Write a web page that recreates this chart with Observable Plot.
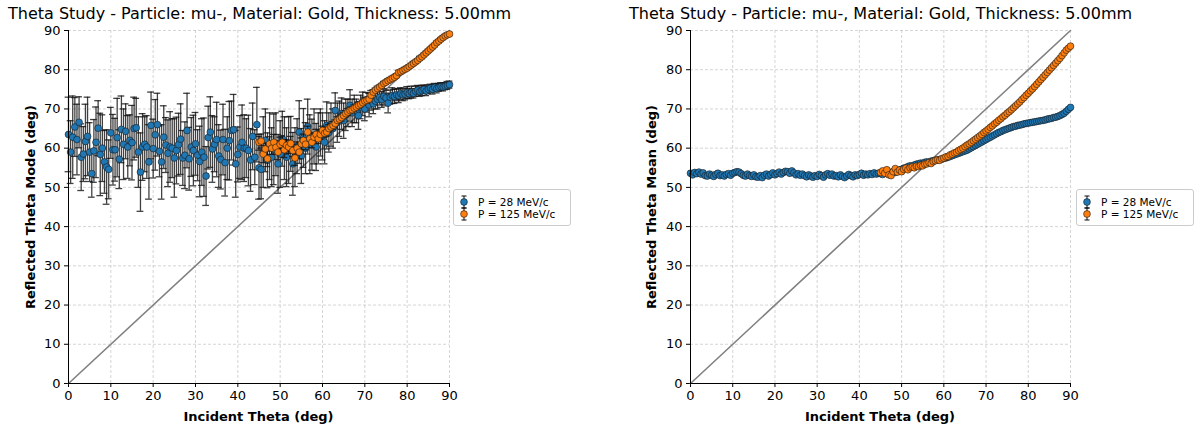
<!DOCTYPE html>
<html><head><meta charset="utf-8">
<script src="https://cdn.jsdelivr.net/npm/d3@7"></script>
<script src="https://cdn.jsdelivr.net/npm/@observablehq/plot@0.6"></script>
<style>
body{margin:0;background:#fff;font-family:"DejaVu Sans",sans-serif;color:#000;}
#wrap{position:relative;width:1196px;height:429px;overflow:hidden;background:#fff;}
.panel{position:absolute;top:0;}
.title{position:absolute;top:6px;font-size:16px;line-height:1;white-space:nowrap;}
.xlab{position:absolute;top:410px;font-size:13px;line-height:1;font-weight:bold;white-space:nowrap;transform:translateX(-50%);}
.ylab{position:absolute;font-size:13px;line-height:1;font-weight:bold;white-space:nowrap;transform:translate(-50%,-50%) rotate(-90deg);}
.legend{position:absolute;width:116px;height:35px;border:1px solid #cccccc;border-radius:3px;background:rgba(255,255,255,0.8);font-size:10.5px;}
.legend .row{position:absolute;left:0;height:12px;line-height:12px;white-space:nowrap;}
.legend svg{position:absolute;left:4px;top:-1px;}
.legend span{position:absolute;left:24px;top:0;}
</style>
</head><body>
<div id="wrap"></div>
<script>
// ---------- data ----------
const titleText = "Theta Study - Particle: mu-, Material: Gold, Thickness: 5.00mm";
const xLabel = "Incident Theta (deg)";
const yLabelMode = "Reflected Theta Mode (deg)";
const yLabelMean = "Reflected Theta Mean (deg)";
const seriesNames = ["P = 28 MeV/c", "P = 125 MeV/c"];
const seriesColors = ["#1f77b4", "#ff7f0e"];
const xTicks = [0,10,20,30,40,50,60,70,80,90];
const yTicks = [0,10,20,30,40,50,60,70,80,90];
const diagX = [0, 90];
const diagY = [0, 90];

const theta28 = [
0,0.5,1,1.5,2,2.5,3,3.5,4,4.5,
5,5.5,6,6.5,7,7.5,8,8.5,9,9.5,
10,10.5,11,11.5,12,12.5,13,13.5,14,14.5,
15,15.5,16,16.5,17,17.5,18,18.5,19,19.5,
20,20.5,21,21.5,22,22.5,23,23.5,24,24.5,
25,25.5,26,26.5,27,27.5,28,28.5,29,29.5,
30,30.5,31,31.5,32,32.5,33,33.5,34,34.5,
35,35.5,36,36.5,37,37.5,38,38.5,39,39.5,
40,40.5,41,41.5,42,42.5,43,43.5,44,44.5,
45,45.5,46,46.5,47,47.5,48,48.5,49,49.5,
50,50.5,51,51.5,52,52.5,53,53.5,54,54.5,
55,55.5,56,56.5,57,57.5,58,58.5,59,59.5,
60,60.5,61,61.5,62,62.5,63,63.5,64,64.5,
65,65.5,66,66.5,67,67.5,68,68.5,69,69.5,
70,70.5,71,71.5,72,72.5,73,73.5,74,74.5,
75,75.5,76,76.5,77,77.5,78,78.5,79,79.5,
80,80.5,81,81.5,82,82.5,83,83.5,84,84.5,
85,85.5,86,86.5,87,87.5,88,88.5,89,89.5,
90];

const mode28 = [
63.5,59.0,62.8,65.4,62.2,66.6,57.7,58.5,61.7,63.0,
59.0,53.5,59.3,61.5,65.1,58.4,60.0,56.5,55.2,54.6,
63.9,59.6,59.6,62.7,57.2,64.8,61.0,64.3,60.3,62.0,
61.4,65.0,65.2,59.0,53.9,60.3,61.0,60.3,56.5,65.8,
59.9,63.4,66.0,59.2,56.5,62.8,60.8,58.7,60.3,60.0,
57.5,59.4,60.9,62.3,57.5,58.2,64.5,57.3,60.3,59.4,
61.1,58.2,56.6,59.0,57.7,52.9,62.7,64.1,59.8,61.0,
62.2,58.0,57.1,62.2,56.3,60.0,61.9,64.5,64.7,56.0,
58.4,60.3,61.5,60.0,60.0,59.4,57.0,63.0,57.7,66.0,
55.0,54.6,59.0,62.0,56.9,60.5,57.7,59.7,61.0,56.0,
58.5,62.4,60.0,57.7,59.5,61.1,56.0,57.7,60.5,64.1,
58.0,62.6,60.0,65.5,61.0,60.9,63.0,60.3,62.5,64.0,
63.0,61.5,65.8,64.0,66.0,65.0,69.6,66.5,67.5,68.8,
67.0,68.5,69.0,70.9,69.0,70.0,69.5,68.3,70.5,71.3,
70.0,71.7,71.0,72.2,71.3,72.0,72.5,73.0,72.4,73.2,
72.8,71.5,73.0,73.4,73.2,73.6,73.4,73.9,73.6,73.8,
74.2,73.9,74.3,74.0,74.5,74.8,74.4,74.7,75.0,74.6,
75.0,75.3,75.0,75.5,75.2,75.5,75.7,75.6,75.8,76.0,
76.2];

const modeErr28 = [
9.5,8.0,10.5,7.5,9.0,6.5,8.5,7.0,9.5,10.0,
7.5,6.0,8.0,9.0,7.0,10.5,8.5,8.0,9.5,7.5,
6.5,9.0,8.0,10.0,7.5,8.5,9.0,7.0,8.0,6.5,
9.5,8.0,7.5,9.0,10.0,8.5,7.0,8.0,9.5,8.5,
7.5,9.0,8.0,6.5,9.5,8.0,7.0,8.5,9.0,7.5,
10.0,8.5,8.0,9.0,7.0,8.5,9.5,8.0,7.5,9.0,
8.0,6.5,9.0,8.5,10.0,7.5,8.0,9.0,8.5,7.0,
9.5,8.0,7.5,9.0,8.5,8.0,10.0,7.5,9.0,8.5,
7.0,8.0,9.5,8.5,7.5,9.0,8.0,8.5,7.0,9.5,
8.0,7.5,9.0,8.0,7.0,8.5,7.5,9.0,8.0,7.5,
8.5,7.0,8.0,7.5,8.5,7.0,8.0,7.5,7.0,8.0,
7.0,7.5,6.5,7.0,7.5,6.5,7.0,6.0,6.5,6.0,
6.0,5.5,6.0,5.0,5.5,5.0,4.5,5.0,4.5,4.0,
4.5,4.0,3.5,4.0,3.5,3.5,3.0,3.5,3.0,3.0,
3.0,2.5,3.0,2.5,2.5,2.0,2.5,2.0,2.0,2.0,
2.0,2.5,1.8,2.0,1.8,1.5,1.8,1.5,1.5,1.5,
1.5,1.3,1.5,1.2,1.3,1.2,1.2,1.3,1.1,1.2,
1.1,1.0,1.2,1.0,1.1,1.0,1.0,1.0,0.9,1.0,
0.9];

const mean28 = [
53.6,53.2,53.8,53.5,53.9,53.4,53.7,53.0,52.9,53.4,
53.1,52.8,53.3,53.6,53.0,53.2,52.9,53.3,53.5,53.1,
53.6,53.8,54.0,53.9,53.5,53.1,52.9,53.4,53.0,52.8,
53.2,52.7,52.6,53.0,52.5,53.1,53.4,52.9,53.3,53.7,
53.2,53.5,53.9,53.4,53.8,54.1,54.0,53.6,54.2,53.7,
53.2,53.5,53.1,53.4,53.0,52.7,53.2,52.9,52.6,53.0,
52.8,53.3,53.0,52.6,53.2,53.5,53.1,53.4,52.9,53.0,
52.7,53.2,52.8,52.5,52.9,53.3,53.0,52.7,53.2,53.0,
53.3,53.6,53.1,53.4,53.2,53.5,53.3,53.7,53.4,53.6,
53.5,53.3,53.7,53.5,53.9,53.6,54.0,53.8,54.2,54.4,
54.6,54.9,55.0,55.3,55.5,55.4,55.7,55.9,56.0,56.2,
56.1,56.4,56.5,56.4,56.7,56.8,56.9,57.0,57.1,57.2,
57.4,57.5,57.7,57.9,58.1,58.3,58.5,58.7,58.9,59.1,
59.3,59.5,59.8,60.1,60.4,60.7,61.0,61.3,61.6,61.9,
62.2,62.5,62.8,63.1,63.4,63.7,64.0,64.2,64.5,64.7,
64.9,65.1,65.3,65.5,65.6,65.8,65.9,66.0,66.2,66.3,
66.4,66.5,66.6,66.7,66.8,66.9,67.0,67.1,67.2,67.4,
67.5,67.6,67.8,67.9,68.1,68.3,68.6,68.9,69.4,69.9,
70.4];

const theta125 = [
45,45.5,46,46.5,47,47.5,48,48.5,49,49.5,
50,50.5,51,51.5,52,52.5,53,53.5,54,54.5,
55,55.5,56,56.5,57,57.5,58,58.5,59,59.5,
60,60.5,61,61.5,62,62.5,63,63.5,64,64.5,
65,65.5,66,66.5,67,67.5,68,68.5,69,69.5,
70,70.5,71,71.5,72,72.5,73,73.5,74,74.5,
75,75.5,76,76.5,77,77.5,78,78.5,79,79.5,
80,80.5,81,81.5,82,82.5,83,83.5,84,84.5,
85,85.5,86,86.5,87,87.5,88,88.5,89,89.5,
90];

const mode125 = [
61.5,61.8,58.5,59.8,57.3,61.1,60.0,61.5,60.2,59.0,
61.0,61.5,59.6,60.7,60.3,61.2,59.4,57.5,60.0,59.0,
61.1,62.0,61.0,64.1,62.4,61.5,62.8,63.5,62.4,63.5,
64.5,63.8,64.1,65.0,65.4,65.8,66.3,67.1,67.4,67.8,
68.3,68.8,69.2,69.6,69.8,70.2,70.5,70.9,71.2,71.6,
72.0,72.2,72.5,73.5,74.3,74.8,75.2,75.6,76.0,76.5,
76.8,77.2,77.5,77.8,78.1,78.5,79.3,79.5,79.8,80.1,
80.4,80.8,81.2,81.6,82.0,82.4,82.9,83.3,83.8,84.3,
84.8,85.3,85.8,86.3,86.9,87.3,87.8,88.2,88.6,88.9,
89.1];

const modeErr125 = [
2.0,1.8,2.2,1.5,2.0,1.8,1.6,2.0,1.7,1.9,
1.8,1.6,2.0,1.5,1.7,1.8,1.5,1.9,1.6,1.7,
1.5,1.6,1.4,1.5,1.3,1.4,1.2,1.3,1.2,1.1,
1.1,1.0,1.1,1.0,0.9,1.0,0.9,0.9,0.8,0.9,
0.8,0.8,0.9,0.8,0.7,0.8,0.7,0.7,0.7,0.6,
0.6,0.7,0.6,0.6,0.6,0.5,0.6,0.5,0.5,0.5,
0.5,0.5,0.5,0.5,0.5,0.5,0.5,0.5,0.5,0.5,
0.5,0.5,0.4,0.5,0.4,0.4,0.5,0.4,0.4,0.4,
0.4,0.4,0.4,0.4,0.4,0.4,0.4,0.4,0.4,0.4,
0.4];

const mean125 = [
53.8,54.2,53.6,54.5,53.2,53.0,54.0,54.8,53.9,54.4,
54.0,54.6,54.9,54.5,55.0,55.2,55.0,55.4,55.3,55.6,
55.5,55.9,56.0,56.3,56.1,56.6,56.8,57.0,56.9,57.3,
57.5,57.8,57.9,58.3,58.5,58.8,59.0,59.4,59.7,60.0,
60.4,60.8,61.1,61.5,61.9,62.3,62.7,63.1,63.5,64.0,
64.4,64.8,65.3,65.7,66.2,66.6,67.1,67.5,68.0,68.4,
68.9,69.3,69.8,70.3,70.8,71.3,71.8,72.4,72.9,73.5,
74.0,74.6,75.1,75.7,76.3,76.9,77.5,78.1,78.7,79.3,
79.9,80.5,81.1,81.7,82.3,82.9,83.6,84.3,85.0,85.5,
86.0];

// ---------- tables ----------
const s28 = theta28.map((t, i) => ({t, mode: mode28[i], err: modeErr28[i], mean: mean28[i]}));
const s125 = theta125.map((t, i) => ({t, mode: mode125[i], err: modeErr125[i], mean: mean125[i]}));
const diag = diagX.map((x, i) => ({x, y: diagY[i]}));

const capHalf = 0.8; // cap half-width in degrees
const eStyle = {stroke: "#111", strokeOpacity: 0.8, strokeWidth: 1.3};

function errMarks(data, color) {
  return [
    Plot.ruleX(data, {x: "t", y1: d => d.mode - d.err, y2: d => d.mode + d.err, ...eStyle}),
    Plot.ruleY(data, {y: d => d.mode + d.err, x1: d => d.t - capHalf, x2: d => d.t + capHalf, ...eStyle}),
    Plot.ruleY(data, {y: d => d.mode - d.err, x1: d => d.t - capHalf, x2: d => d.t + capHalf, ...eStyle}),
    Plot.dot(data, {x: "t", y: "mode", r: 3.4, fill: color, stroke: "#1a1a1a", strokeWidth: 0.6})
  ];
}

function basePlot(ml, mr, marks) {
  return Plot.plot({
    width: 598, height: 429,
    marginLeft: ml, marginRight: mr, marginTop: 30, marginBottom: 46,
    x: {domain: [0, 90]},
    y: {domain: [0, 90]},
    style: {fontFamily: "DejaVu Sans", fontSize: "13px", color: "#000", background: "transparent", overflow: "visible"},
    marks: [
      Plot.gridX(xTicks, {stroke: "#b8b8b8", strokeOpacity: 1, strokeWidth: 0.6, strokeDasharray: "3,2"}),
      Plot.gridY(yTicks, {stroke: "#b8b8b8", strokeOpacity: 1, strokeWidth: 0.6, strokeDasharray: "3,2"}),
      Plot.axisX(xTicks, {tickSize: 4, tickPadding: 3, label: null, fontSize: 13}),
      Plot.axisY(yTicks, {tickSize: 4, tickPadding: 4, label: null, fontSize: 13}),
      Plot.line(diag, {x: "x", y: "y", stroke: "#808080", strokeWidth: 1.6}),
      ...marks,
      Plot.ruleX([0], {stroke: "#000", strokeWidth: 1}),
      Plot.ruleY([0], {stroke: "#000", strokeWidth: 1})
    ]
  });
}

const wrap = document.getElementById("wrap");

// left panel (mode)
const left = basePlot(68, 149, [
  ...errMarks(s28, seriesColors[0]),
  ...errMarks(s125, seriesColors[1])
]);
left.classList.add("panel");
left.style.left = "0px";
wrap.appendChild(left);

// right panel (mean)
const right = basePlot(92, 126, [
  Plot.dot(s28, {x: "t", y: "mean", r: 3.4, fill: seriesColors[0], stroke: "#1a1a1a", strokeWidth: 0.6}),
  Plot.dot(s125, {x: "t", y: "mean", r: 3.4, fill: seriesColors[1], stroke: "#1a1a1a", strokeWidth: 0.6})
]);
right.classList.add("panel");
right.style.left = "598px";
wrap.appendChild(right);

function addDiv(cls, text, styles) {
  const d = document.createElement("div");
  d.className = cls;
  d.textContent = text;
  Object.assign(d.style, styles);
  wrap.appendChild(d);
  return d;
}
addDiv("title", titleText, {left: "8px"});
addDiv("title", titleText, {left: "629px"});
addDiv("xlab", xLabel, {left: "258.5px"});
addDiv("xlab", xLabel, {left: "880px"});
addDiv("ylab", yLabelMode, {left: "30px", top: "207px"});
addDiv("ylab", yLabelMean, {left: "651px", top: "207px"});

function addLegend(x, y) {
  const lg = document.createElement("div");
  lg.className = "legend";
  lg.style.left = x + "px";
  lg.style.top = y + "px";
  seriesNames.forEach((name, i) => {
    const row = document.createElement("div");
    row.className = "row";
    row.style.top = (6 + i * 12) + "px";
    row.style.width = "110px";
    row.innerHTML =
      `<svg width="12" height="14" viewBox="0 0 12 14">
         <line x1="6" y1="1" x2="6" y2="13" stroke="#000" stroke-opacity="0.8" stroke-width="1.2"/>
         <line x1="3.5" y1="1" x2="8.5" y2="1" stroke="#000" stroke-opacity="0.8" stroke-width="1.2"/>
         <line x1="3.5" y1="13" x2="8.5" y2="13" stroke="#000" stroke-opacity="0.8" stroke-width="1.2"/>
         <circle cx="6" cy="7" r="3.4" fill="${seriesColors[i]}" stroke="#1a1a1a" stroke-width="0.6"/>
       </svg><span>${name}</span>`;
    lg.appendChild(row);
  });
  wrap.appendChild(lg);
}
addLegend(453, 189);
addLegend(1076, 189);
</script>
</body></html>
